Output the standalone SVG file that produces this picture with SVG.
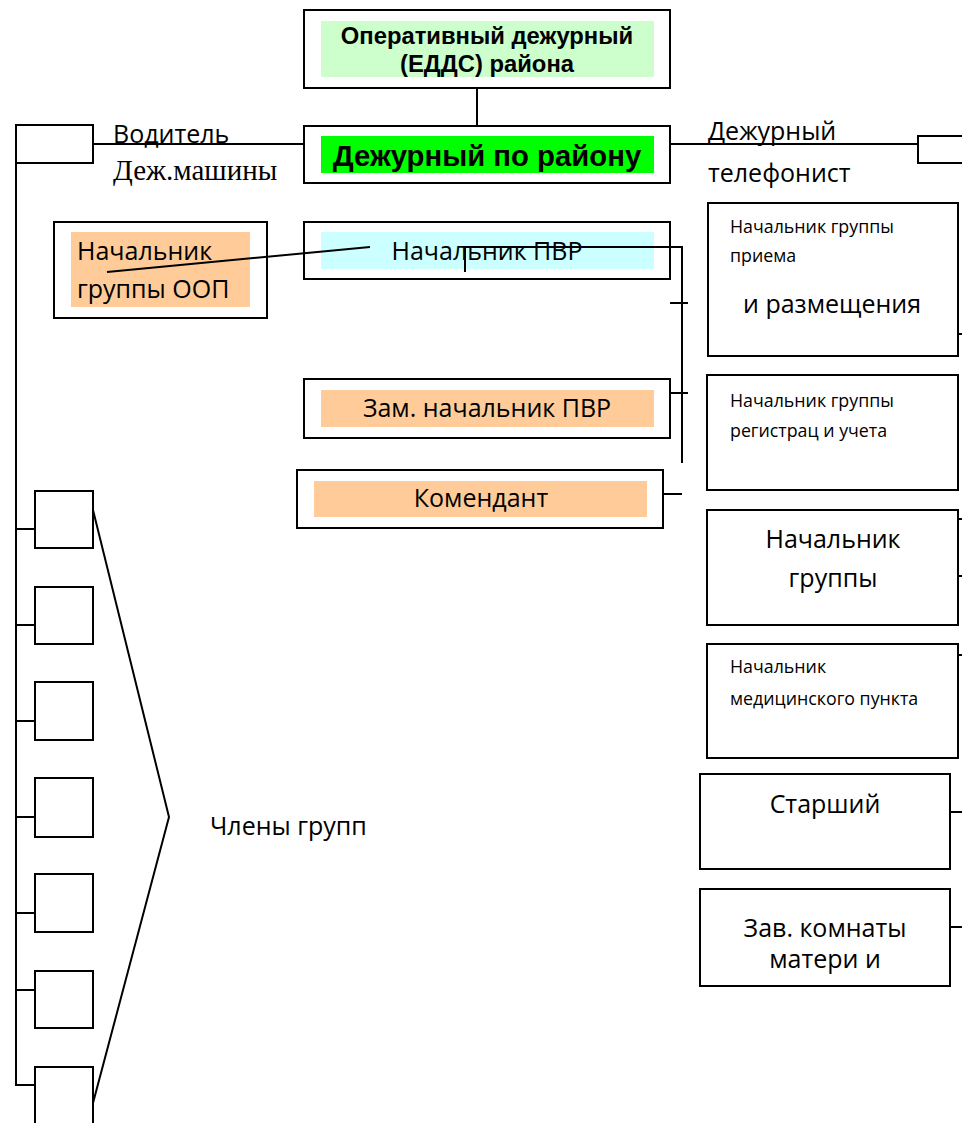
<svg xmlns="http://www.w3.org/2000/svg" width="962" height="1123" viewBox="0 0 962 1123">
<style>
.box{fill:#fff;stroke:#000;stroke-width:2}
.ln{stroke:#000;stroke-width:2;fill:none}
.ar{font-family:"Liberation Sans",Arial,sans-serif;font-weight:bold;fill:#000}
.cal{font-family:"Open Sans","Noto Sans",sans-serif;fill:#000;font-size:25px}
.sm{font-family:"Open Sans","Noto Sans",sans-serif;fill:#000;font-size:17.8px}
.tm{font-family:"Liberation Serif","Times New Roman",serif;fill:#000}
</style>
<rect width="962" height="1123" fill="#fff"/>
<g id="connectors">
<line class="ln" x1="477" y1="88" x2="477" y2="126"/>
<line class="ln" x1="93" y1="144" x2="304" y2="144"/>
<line class="ln" x1="670" y1="144" x2="918" y2="144"/>
<polyline class="ln" points="16,163 16,1085 35,1085"/>
<line class="ln" x1="16" y1="529" x2="35" y2="529"/>
<line class="ln" x1="16" y1="625" x2="35" y2="625"/>
<line class="ln" x1="16" y1="721" x2="35" y2="721"/>
<line class="ln" x1="16" y1="817" x2="35" y2="817"/>
<line class="ln" x1="16" y1="913" x2="35" y2="913"/>
<line class="ln" x1="16" y1="990" x2="35" y2="990"/>
<polyline class="ln" points="93,510 169,817 93,1103"/>
<line class="ln" x1="670" y1="303" x2="688" y2="303"/>
<line class="ln" x1="670" y1="393" x2="688" y2="393"/>
<line class="ln" x1="658" y1="494" x2="682" y2="494"/>
<line class="ln" x1="949" y1="334" x2="962" y2="334"/>
<line class="ln" x1="958" y1="519" x2="962" y2="519"/>
<line class="ln" x1="958" y1="576" x2="962" y2="576"/>
<line class="ln" x1="958" y1="655" x2="962" y2="655"/>
<line class="ln" x1="950" y1="812" x2="962" y2="812"/>
<line class="ln" x1="950" y1="927" x2="962" y2="927"/>
</g>
<g id="n-eds">
<rect class="box" x="304" y="10" width="366" height="78"/>
<rect x="321" y="21" width="333" height="56" fill="#ccffcc"/>
<text class="ar" x="487" y="44" font-size="23.8" text-anchor="middle">Оперативный дежурный</text>
<text class="ar" x="487" y="72" font-size="23.8" text-anchor="middle">(ЕДДС) района</text>
</g>
<g id="n-duty">
<rect class="box" x="304" y="126" width="366" height="57"/>
<rect x="321" y="136" width="333" height="37" fill="#00ff00"/>
<text class="ar" x="487" y="166" font-size="29.3" text-anchor="middle">Дежурный по району</text>
</g>
<g id="n-driver">
<rect class="box" x="16" y="125" width="77" height="38"/>
<text class="cal" x="113" y="143">Водитель</text>
<text class="tm" x="113" y="180" font-size="29">Деж.машины</text>
</g>
<g id="n-phone">
<rect class="box" x="918" y="136" width="50" height="27"/>
<text class="cal" x="708" y="140">Дежурный</text>
<text class="cal" x="708" y="182">телефонист</text>
</g>
<g id="n-oop">
<rect class="box" x="54" y="222" width="213" height="96"/>
<rect x="71" y="232" width="179" height="75" fill="#ffcc99"/>
<text class="cal" x="77" y="260">Начальник</text>
<text class="cal" x="77" y="298">группы ООП</text>
</g>
<g id="n-pvr">
<rect class="box" x="304" y="222" width="366" height="57"/>
<rect x="321" y="232" width="333" height="37" fill="#ccffff"/>
<text class="cal" x="487" y="260" text-anchor="middle">Начальник ПВР</text>
</g>
<g id="connectors-pvr">
<line class="ln" x1="107" y1="272" x2="370" y2="247"/>
<line class="ln" x1="465" y1="247" x2="465" y2="272"/>
<polyline class="ln" points="465,247 682,247 682,463"/>
</g>
<g id="n-zam">
<rect class="box" x="304" y="379" width="366" height="59"/>
<rect x="321" y="390" width="333" height="37" fill="#ffcc99"/>
<text class="cal" x="487" y="417" text-anchor="middle">Зам. начальник ПВР</text>
</g>
<g id="n-kom">
<rect class="box" x="297" y="470" width="366" height="58"/>
<rect x="314" y="481" width="333" height="36" fill="#ffcc99"/>
<text class="cal" x="481" y="507" text-anchor="middle">Комендант</text>
</g>
<g id="n-priem">
<rect class="box" x="708" y="203" width="250" height="153"/>
<text class="sm" x="730" y="233">Начальник группы</text>
<text class="sm" x="730" y="262">приема</text>
<text class="cal" x="743" y="313">и размещения</text>
</g>
<g id="n-reg">
<rect class="box" x="707" y="375" width="251" height="115"/>
<text class="sm" x="730" y="407">Начальник группы</text>
<text class="sm" x="730" y="437">регистрац и учета</text>
</g>
<g id="n-group">
<rect class="box" x="707" y="510" width="251" height="115"/>
<text class="cal" x="833" y="548" text-anchor="middle">Начальник</text>
<text class="cal" x="833" y="587" text-anchor="middle">группы</text>
</g>
<g id="n-med">
<rect class="box" x="707" y="644" width="251" height="114"/>
<text class="sm" x="730" y="673">Начальник</text>
<text class="sm" x="730" y="705">медицинского пункта</text>
</g>
<g id="n-senior">
<rect class="box" x="700" y="774" width="250" height="95"/>
<text class="cal" x="825" y="813" text-anchor="middle">Старший</text>
</g>
<g id="n-mother">
<rect class="box" x="700" y="889" width="250" height="97"/>
<text class="cal" x="825" y="937" text-anchor="middle">Зав. комнаты</text>
<text class="cal" x="825" y="968" text-anchor="middle">матери и</text>
</g>
<g id="n-members">
<rect class="box" x="35" y="491" width="58" height="57"/>
<rect class="box" x="35" y="587" width="58" height="57"/>
<rect class="box" x="35" y="682" width="58" height="58"/>
<rect class="box" x="35" y="778" width="58" height="59"/>
<rect class="box" x="35" y="874" width="58" height="58"/>
<rect class="box" x="35" y="971" width="58" height="57"/>
<rect class="box" x="35" y="1067" width="58" height="70"/>
<text class="cal" x="210" y="835">Члены групп</text>
</g>
</svg>
